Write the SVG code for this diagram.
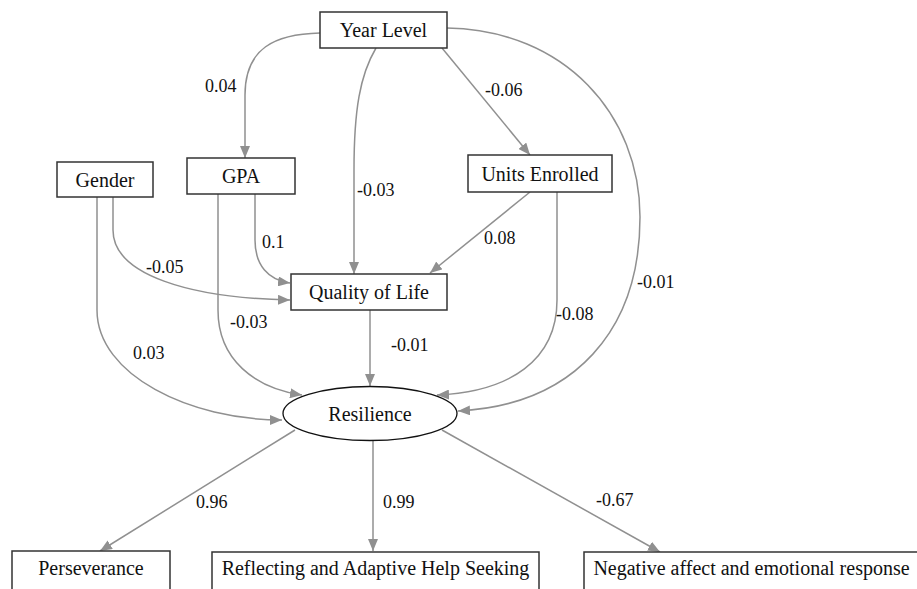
<svg xmlns="http://www.w3.org/2000/svg" width="917" height="589" viewBox="0 0 917 589">
<style>
.box{fill:#fff;stroke:#333;stroke-width:1.5}
.ell{fill:#fff;stroke:#111;stroke-width:1.3}
.t{font-family:"Liberation Serif","Times New Roman",serif;font-size:20px;fill:#111;text-anchor:middle}
.l{font-family:"Liberation Serif","Times New Roman",serif;font-size:18px;fill:#111}
.c{fill:none;stroke:#909090;stroke-width:1.5;marker-end:url(#ah)}
</style>
<defs>
<marker id="ah" markerUnits="userSpaceOnUse" markerWidth="13" markerHeight="10" refX="12" refY="5" orient="auto">
<path d="M0,0 L12,5 L0,10 z" fill="#909090"/>
</marker>
</defs>
<rect width="917" height="589" fill="#fff"/>
<g id="connectors">
<path class="c" d="M320,33 C275,34 245,48 245,95 L245,158"/>
<path class="c" d="M376,48 C360,75 354,110 354,170 L354,274"/>
<path class="c" d="M442,48 L530,155"/>
<path class="c" d="M447,28 C565,30 640,115 640,217 C640,330 575,405 458,411"/>
<path class="c" d="M113,197 L113,230 C113,275 190,298 290,300"/>
<path class="c" d="M255,194 L255,240 C255,265 268,280 290,283"/>
<path class="c" d="M530,192 L430,273"/>
<path class="c" d="M97,197 L97,310 C97,375 190,420 282,420"/>
<path class="c" d="M218,194 L218,310 C218,360 255,388 302,395"/>
<path class="c" d="M557,192 L557,300 C557,360 510,392 437,395"/>
<path class="c" d="M370,310 L370,386"/>
<path class="c" d="M295,430 L100,551"/>
<path class="c" d="M373,441 L373,551"/>
<path class="c" d="M442,430 L660,552"/>
</g>
<g id="labels">
<text class="l" x="205" y="92">0.04</text>
<text class="l" x="485" y="96">-0.06</text>
<text class="l" x="357" y="196">-0.03</text>
<text class="l" x="262" y="248">0.1</text>
<text class="l" x="146" y="273">-0.05</text>
<text class="l" x="484" y="244">0.08</text>
<text class="l" x="637" y="288">-0.01</text>
<text class="l" x="230" y="328">-0.03</text>
<text class="l" x="133" y="359">0.03</text>
<text class="l" x="556" y="320">-0.08</text>
<text class="l" x="391" y="351">-0.01</text>
<text class="l" x="196" y="508">0.96</text>
<text class="l" x="383" y="508">0.99</text>
<text class="l" x="596" y="506">-0.67</text>
</g>
<g id="year-level"><rect class="box" x="320" y="12" width="127" height="36"/><text class="t" x="383.5" y="37">Year Level</text></g>
<g id="gender"><rect class="box" x="57" y="162" width="96" height="35"/><text class="t" x="105" y="186.5">Gender</text></g>
<g id="gpa"><rect class="box" x="187" y="158" width="108" height="36"/><text class="t" x="241" y="183">GPA</text></g>
<g id="units-enrolled"><rect class="box" x="468" y="155" width="144" height="37"/><text class="t" x="540" y="180.5">Units Enrolled</text></g>
<g id="quality-of-life"><rect class="box" x="291" y="274" width="156" height="36"/><text class="t" x="369" y="299">Quality of Life</text></g>
<g id="resilience"><ellipse class="ell" cx="370" cy="413.5" rx="87" ry="27"/><text class="t" x="370" y="420.5">Resilience</text></g>
<g id="perseverance"><rect class="box" x="12" y="551" width="158" height="60"/><text class="t" x="91" y="575">Perseverance</text></g>
<g id="reflecting"><rect class="box" x="212" y="552" width="327" height="60"/><text class="t" x="375.5" y="575">Reflecting and Adaptive Help Seeking</text></g>
<g id="negative-affect"><rect class="box" x="584" y="552" width="360" height="60"/><text class="t" x="751.5" y="575">Negative affect and emotional response</text></g>
</svg>
